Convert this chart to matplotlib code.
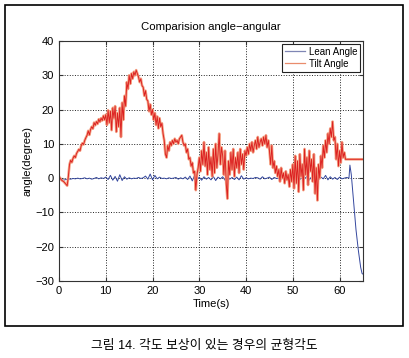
import numpy as np
import matplotlib.pyplot as plt
from matplotlib.patches import Rectangle
from matplotlib.lines import Line2D

plt.rcParams['font.family'] = ['Liberation Sans', 'Noto Sans CJK KR', 'DejaVu Sans']

# Tilt angle, sampled every 0.25 s from t = 0 (one row per second)
tilt_dt = 0.25
tilt = [
    0.5, 0.0, -0.5, -0.8,
    -1.0, -1.4, -1.8, -2.2,
    0.5, 4.0, 5.2, 4.6,
    5.8, 6.5, 6.0, 7.2,
    7.8, 8.4, 8.0, 9.5,
    10.2, 9.8, 11.0, 11.8,
    12.5, 13.8, 12.6, 14.2,
    15.0, 14.4, 16.2, 15.4,
    16.5, 15.8, 17.2, 16.4,
    17.5, 16.8, 18.2, 17.0,
    18.5, 15.5, 19.8, 16.2,
    19.5, 14.0, 20.5, 17.5,
    21.0, 13.5, 19.0, 15.0,
    20.5, 12.0, 22.0, 17.0,
    24.0, 21.0, 28.0, 26.0,
    30.0, 27.5, 30.5, 29.0,
    31.0, 30.0, 31.5, 30.5,
    29.5, 28.0, 29.0, 27.0,
    26.5, 24.0, 25.5, 23.0,
    22.5, 19.5, 21.5, 18.5,
    20.0, 17.0, 19.0, 15.5,
    18.0, 14.5, 17.5, 15.0,
    16.0, 13.0, 11.0, 7.0,
    6.0, 9.5, 8.0, 10.5,
    9.5, 11.0, 10.0, 11.5,
    10.5, 11.0, 10.0, 11.5,
    12.0, 12.5, 10.5, 9.5,
    10.0, 7.5, 8.5, 5.5,
    6.0, 3.5, 4.5, 1.5,
    2.0, -3.5, 1.0, 3.0,
    6.0, 2.0, 8.0, 4.0,
    10.5, 3.5, 7.5, 1.0,
    9.0, 2.5, 6.0, 0.5,
    8.5, 1.5, 10.0, 3.0,
    7.0, 13.0, 4.0, 9.0,
    6.5, 1.0, 8.0, -1.5,
    -6.0, 5.0, 1.0, 7.5,
    2.5, 8.5, 0.5, 6.0,
    3.0, 7.5, 1.5, 8.5,
    4.0, 7.0, 2.5, 8.0,
    6.5, 9.0, 7.0, 10.0,
    8.0, 10.5, 7.5, 9.5,
    11.0, 8.5, 12.0, 9.0,
    10.5, 11.5, 9.5, 12.0,
    10.0, 12.5, 9.0, 11.0,
    8.0, 4.0, 9.5, 3.0,
    5.0, 1.5, 3.5, 0.5,
    2.5, -1.0, 3.0, 0.0,
    1.5, -1.5, 2.0, -0.5,
    1.0, -2.5, 2.5, -1.0,
    4.0, -3.0, 6.5, -1.5,
    5.0, -4.0, 7.0, 0.5,
    4.0, -3.5, 8.5, 1.0,
    6.0, -2.0, 8.0, 2.0,
    5.5, -1.0, 7.0, -4.5,
    3.0, -6.5, 4.0, 0.0,
    6.5, 3.0, 9.5, 6.0,
    11.0, 7.5, 13.0, 10.0,
    14.5, 12.0, 16.5, 11.0,
    12.0, 5.5, 10.0, 3.5,
    8.0, 4.5, 10.5, 6.0,
    7.5, 5.5,
]
tilt_hold_t = [61.5, 65.0]
tilt_hold_v = [5.5, 5.5]

# Lean angle, sampled every 0.5 s from t = 0 to 62
lean_dt = 0.5
lean = [
    0.0, -0.3, -0.6, -0.4, -0.2, -0.3, -0.1, -0.2, 0.0, -0.2,
    -0.1, 0.1, -0.2, 0.0, -0.3, -0.1, 0.2, -0.2, 0.1, -0.1,
    0.3, -0.4, 0.8, -0.6, 0.5, -0.9, 1.0, -0.7, 0.4, -0.3,
    0.1, -0.2, 0.0, -0.1, 0.2, -0.1, 0.1, 0.6, -0.3, 1.2,
    -0.5, 0.8, -0.2, 0.3, -0.1, 0.0, -0.2, 0.1, -0.1, 0.0,
    0.2, -0.3, 0.1, -0.2, 0.3, -0.4, 0.6, -0.8, 0.9, -0.5,
    0.3, -0.6, 0.4, -0.3, 0.2, -0.5, 0.5, -0.7, 0.3, -0.2,
    0.4, -0.6, 0.6, -0.3, 0.2, -0.4, 0.3, -0.5, 0.7, -0.3,
    0.1, -0.2, 0.0, -0.1, 0.2, 0.1, -0.3, 0.4, -0.2, 0.0,
    0.3, -0.4, 0.2, -0.1, 0.0, -0.3, 0.5, -0.6, 0.4, -0.2,
    0.2, -0.5, 0.6, -0.4, 0.3, -0.2, 0.5, -0.6, 0.4, -0.3,
    0.6, -0.4, 0.3, -0.2, 0.8, -0.5, 0.4, -0.3, 0.2, -0.4,
    0.3, -0.2, 0.0, 0.2, 0.0,
]
# fall at the end
lean_tail_t = [62.2, 62.5, 63.0, 63.5, 64.0, 64.5, 64.8, 65.0]
lean_tail_v = [3.8, 1.0, -7.0, -15.0, -21.0, -26.0, -27.8, -28.0]

t_tilt = np.concatenate([np.arange(len(tilt)) * tilt_dt, tilt_hold_t])
v_tilt = np.concatenate([tilt, tilt_hold_v])
t_lean = np.concatenate([np.arange(len(lean)) * lean_dt, lean_tail_t])
v_lean = np.concatenate([lean, lean_tail_v])

fig = plt.figure(figsize=(4.10, 3.58), dpi=100)
ax = fig.add_axes([59 / 410, 1 - 281 / 358, 304 / 410, 240 / 358])

ax.plot(t_lean, v_lean, color='#34479e', lw=0.7)
ax.plot(t_tilt, v_tilt, color='#f4a487', lw=1.9)
ax.plot(t_tilt, v_tilt, color='#dc2020', lw=0.65)

ax.set_xlim(0, 65)
ax.set_ylim(-30, 40)
ax.set_xticks(range(0, 61, 10))
ax.set_yticks(range(-30, 41, 10))
ax.grid(True, linestyle=':', color='#222222', linewidth=0.7)
ax.tick_params(direction='in', length=3, labelsize=8, top=True, right=True,
               color='#333333')
for s in ax.spines.values():
    s.set_color('#333333')
    s.set_linewidth(0.8)

ax.set_title('Comparision angle\u2212angular', fontsize=8.2, pad=8)
ax.set_xlabel('Time(s)', fontsize=8, labelpad=2)
ax.set_ylabel('angle(degree)', fontsize=8, labelpad=2)

# thin legend lines as in the original
handles = [Line2D([], [], color='#7f86b4', lw=0.9),
           Line2D([], [], color='#e98c6c', lw=0.9)]
leg = ax.legend(handles, ['Lean Angle', 'Tilt Angle'], loc='upper right',
                fontsize=7, fancybox=False, framealpha=1,
                edgecolor='#222222', handlelength=2.0, borderpad=0.3,
                labelspacing=0.2, borderaxespad=0.3, handletextpad=0.4)
leg.get_frame().set_linewidth(0.8)

fig.patches.append(Rectangle((5 / 410, 1 - 326 / 358), 398 / 410, 321 / 358,
                             transform=fig.transFigure, fill=False,
                             edgecolor='black', linewidth=1.2))

fig.text(204 / 410, 1 - 346 / 358, '그림 14. 각도 보상이 있는 경우의 균형각도',
         ha='center', va='center', fontsize=9.2)

fig.savefig('out.png', dpi=100)
